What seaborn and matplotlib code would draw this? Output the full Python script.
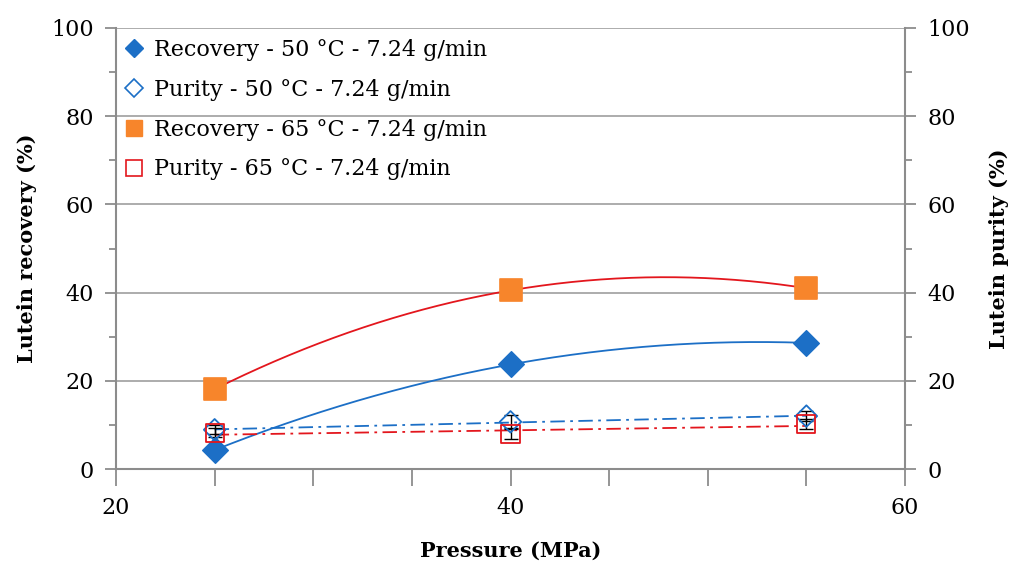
import numpy as np
import pandas as pd
import matplotlib
matplotlib.use("Agg")
import matplotlib.pyplot as plt
from matplotlib.lines import Line2D
from matplotlib.ticker import MultipleLocator
import seaborn as sns

# ---- data ----
pressure = [25, 40, 55]
rec_50 = [4.3, 23.7, 28.6]
rec_50_err = [0.6, 1.0, 1.2]
pur_50 = [8.9, 10.7, 12.0]
pur_50_err = [1.0, 1.5, 1.2]
rec_65 = [18.1, 40.5, 41.0]
rec_65_err = [0.5, 0.8, 0.8]
pur_65 = [8.2, 7.9, 10.2]
pur_65_err = [1.0, 1.2, 1.2]
labels = ["Recovery - 50 °C - 7.24 g/min", "Purity - 50 °C - 7.24 g/min",
          "Recovery - 65 °C - 7.24 g/min", "Purity - 65 °C - 7.24 g/min"]

BLUE = "#1C6FC6"
ORANGE = "#F7852B"
RED = "#E3161D"
GRID = "#A6A6A6"
SPINE = "#8C8C8C"

sns.set_theme(style="white")
plt.rcParams["font.family"] = ["DejaVu Serif"]
plt.rcParams["text.color"] = "black"
plt.rcParams["axes.labelcolor"] = "black"
plt.rcParams["xtick.color"] = "black"
plt.rcParams["ytick.color"] = "black"
FS = 16
LFS = 15

fig = plt.figure(figsize=(10.15, 5.63), dpi=100)
ax = fig.add_axes([116/1015, 1-469/563, (905-116)/1015, (469-28)/563])

# trend lines (fits of the data)
xs = np.linspace(25, 55, 200)
def trend(y, deg):
    return np.polyval(np.polyfit(pressure, y, deg), xs)

DASHDOT = (0, (8, 3, 1.5, 3))
sns.lineplot(x=xs, y=trend(rec_65, 2), color=RED, lw=1.3, ax=ax, zorder=2)
sns.lineplot(x=xs, y=trend(rec_50, 2), color=BLUE, lw=1.3, ax=ax, zorder=2)
sns.lineplot(x=xs, y=trend(pur_50, 1), color=BLUE, lw=1.3, ax=ax, zorder=2)
ax.lines[-1].set_linestyle(DASHDOT)
sns.lineplot(x=xs, y=trend(pur_65, 1), color=RED, lw=1.3, ax=ax, zorder=2)
ax.lines[-1].set_linestyle(DASHDOT)

# error bars
for y, e in [(rec_50, rec_50_err), (pur_50, pur_50_err), (rec_65, rec_65_err), (pur_65, pur_65_err)]:
    ax.errorbar(pressure, y, yerr=e, fmt="none", ecolor="black", elinewidth=1.0,
                capsize=5, capthick=1.0, zorder=3)

# markers
sns.scatterplot(x=pressure, y=rec_65, marker="s", s=230, color=ORANGE, edgecolor=ORANGE, ax=ax, zorder=4)
sns.scatterplot(x=pressure, y=rec_50, marker="D", s=170, color=BLUE, edgecolor=BLUE, ax=ax, zorder=4)
sns.scatterplot(x=pressure, y=pur_50, marker="D", s=120, facecolor="none", edgecolor=BLUE, linewidth=1.3, ax=ax, zorder=5)
sns.scatterplot(x=pressure, y=pur_65, marker="s", s=170, facecolor="none", edgecolor=RED, linewidth=1.3, ax=ax, zorder=5)

ax.set_xlim(20, 60)
ax.set_ylim(0, 100)
ax.xaxis.set_major_locator(MultipleLocator(20))
ax.xaxis.set_minor_locator(MultipleLocator(5))
ax.yaxis.set_major_locator(MultipleLocator(20))
ax.yaxis.set_minor_locator(MultipleLocator(10))
ax.grid(axis="y", which="major", color=GRID, lw=1.3)
ax.grid(axis="x", visible=False)
ax.set_axisbelow(True)
for side in ["left", "right", "bottom"]:
    ax.spines[side].set_color(SPINE)
    ax.spines[side].set_linewidth(1.5)
ax.spines["top"].set_visible(False)
ax.tick_params(axis="x", which="both", direction="out", length=12, width=1.3, color=SPINE,
               bottom=True, labelsize=FS, pad=8, labelcolor="black")
ax.tick_params(axis="y", which="major", direction="out", length=8, width=1.3, color=SPINE,
               labelsize=FS, pad=8, left=True, labelcolor="black")
ax.tick_params(axis="y", which="minor", direction="out", length=5, width=1.3, color=SPINE, left=True)

ax.set_xlabel("Pressure (MPa)", fontsize=LFS, fontweight="bold", labelpad=16, color="black")
ax.set_ylabel("Lutein recovery (%)", fontsize=LFS, fontweight="bold", labelpad=10, color="black")

ax2 = ax.twinx()
ax2.set_ylim(0, 100)
ax2.yaxis.set_major_locator(MultipleLocator(20))
ax2.yaxis.set_minor_locator(MultipleLocator(10))
for side in ["left", "right", "bottom", "top"]:
    ax2.spines[side].set_visible(False)
ax2.tick_params(axis="y", which="major", direction="out", length=8, width=1.3, color=SPINE,
                labelsize=FS, pad=8, right=True, labelcolor="black")
ax2.tick_params(axis="y", which="minor", direction="out", length=5, width=1.3, color=SPINE, right=True)
ax2.set_ylabel("Lutein purity (%)", fontsize=LFS, fontweight="bold", labelpad=14, color="black")
ax2.grid(False)

handles = [
    Line2D([], [], ls="none", marker="D", ms=9, color=BLUE, mec=BLUE),
    Line2D([], [], ls="none", marker="D", ms=9, mfc="none", mec=BLUE, mew=1.2),
    Line2D([], [], ls="none", marker="s", ms=12, color=ORANGE, mec=ORANGE),
    Line2D([], [], ls="none", marker="s", ms=12, mfc="none", mec=RED, mew=1.2),
]
ax.legend(handles, labels, loc="upper left", bbox_to_anchor=(-0.005, 1.01), frameon=False,
          fontsize=FS, handlelength=0.6, handletextpad=0.6, labelspacing=0.8,
          borderaxespad=0.3, labelcolor="black")

fig.savefig("out.png", dpi=100)
